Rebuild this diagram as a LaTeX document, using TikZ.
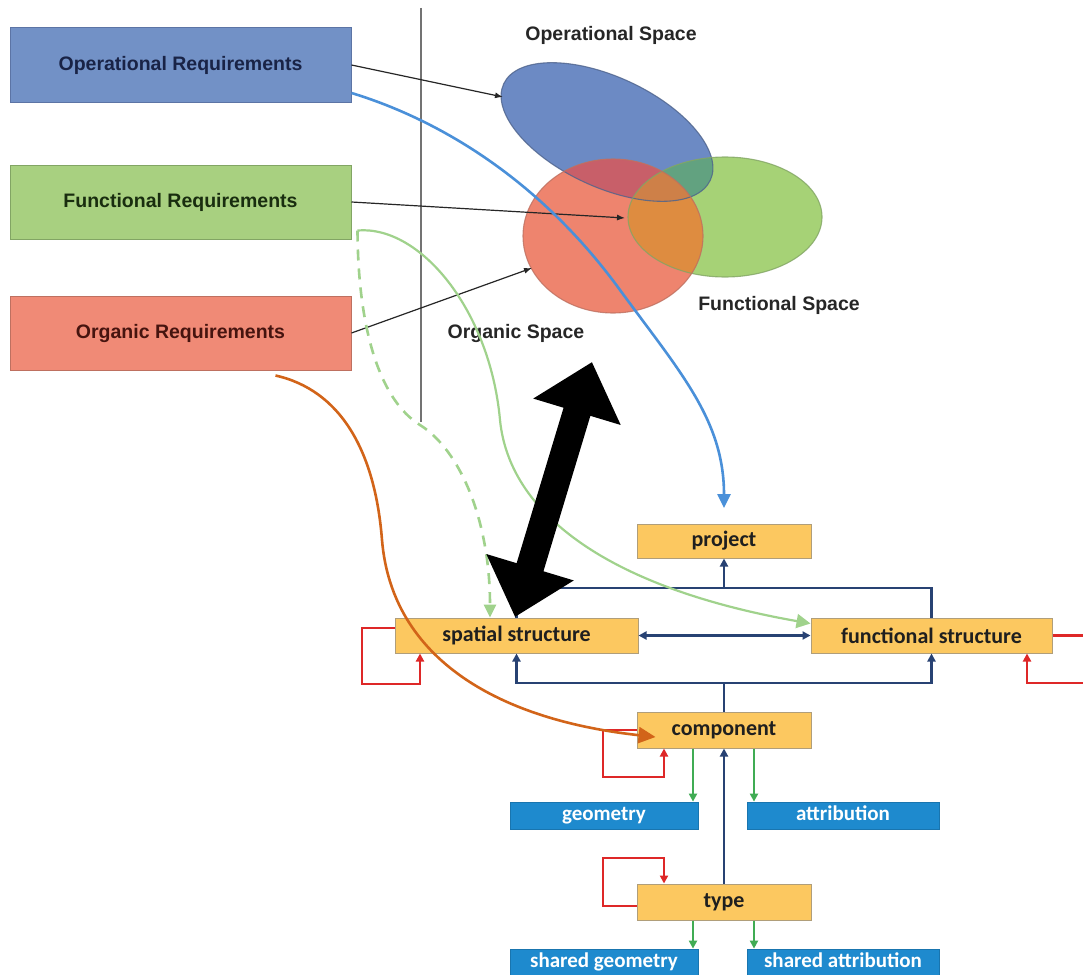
\documentclass[tikz,border=0pt]{standalone}
\usepackage{fontspec}
\setmainfont{Liberation Sans}
\newfontfamily\calfont{Carlito}
\usetikzlibrary{arrows.meta}

% requirement boxes
\definecolor{opfill}{RGB}{114,145,198}
\definecolor{opedge}{RGB}{92,116,165}
\definecolor{fnfill}{RGB}{168,208,128}
\definecolor{fnedge}{RGB}{130,165,100}
\definecolor{orfill}{RGB}{240,138,118}
\definecolor{oredge}{RGB}{190,112,96}
\definecolor{optext}{RGB}{25,35,70}
\definecolor{fntext}{RGB}{25,45,15}
\definecolor{ortext}{RGB}{70,20,15}
% space ellipses and their overlaps
\definecolor{eBlue}{RGB}{108,138,196}
\definecolor{eGreen}{RGB}{166,210,118}
\definecolor{eRed}{RGB}{238,132,110}
\definecolor{eBR}{RGB}{200,95,105}
\definecolor{eBG}{RGB}{98,162,128}
\definecolor{eRG}{RGB}{222,140,64}
\definecolor{eBRG}{RGB}{206,128,72}
% structure model
\definecolor{strfill}{RGB}{252,200,96}
\definecolor{stredge}{RGB}{176,158,122}
\definecolor{datafill}{RGB}{30,138,206}
\definecolor{navy}{RGB}{40,66,115}
\definecolor{relred}{RGB}{222,40,40}
\definecolor{relgreen}{RGB}{64,172,84}
\definecolor{curveblue}{RGB}{74,144,217}
\definecolor{curvegreen}{RGB}{160,210,140}
\definecolor{curveorange}{RGB}{210,100,25}

\tikzset{
  reqbox/.style={minimum width=341, minimum height=74, inner sep=0, line width=1pt,
    font=\fontsize{19.5}{22}\selectfont\bfseries},
  spacelabel/.style={inner sep=0, text=black!85, font=\fontsize{19.5}{22}\selectfont\bfseries},
  strbox/.style={draw=stredge, fill=strfill, line width=1pt, inner sep=0, text=black!88,
    font=\calfont\bfseries\fontsize{22}{24}\selectfont},
  databox/.style={draw=datafill!85!black, fill=datafill, line width=0.8pt, inner sep=0, text=white,
    font=\calfont\bfseries\fontsize{21}{23}\selectfont, minimum height=27,
    text height=15pt, text depth=4.5pt},
  feed/.style={black!85, line width=1.2pt, -{Latex[length=8pt,width=6pt]}},
  navyline/.style={navy, line width=2.4pt},
  navytip/.style={-{Triangle[length=8pt,width=8pt]}},
  redline/.style={relred, line width=2.2pt, -{Triangle[length=8pt,width=8pt]}},
  greenline/.style={relgreen, line width=2.2pt, -{Triangle[length=8pt,width=8pt]}},
  edgeline/.style={line width=1.1pt, draw opacity=0.8}
}

\begin{document}
\begin{tikzpicture}[x=1pt,y=-1pt]
\useasboundingbox (0,0) rectangle (1083,974);
\fill[white] (0,0) rectangle (1083,974);
\clip (0,0) rectangle (1083,974);

% ---- requirement boxes ----
\node[reqbox, fill=opfill, draw=opedge, text=optext] (opreq) at (180.5,65) {Operational Requirements};
\node[reqbox, fill=fnfill, draw=fnedge, text=fntext] (funcreq) at (180.5,202) {Functional Requirements};
\node[reqbox, fill=orfill, draw=oredge, text=ortext] (orgreq) at (180.5,333) {Organic Requirements};

% ---- divider ----
\coordinate (divtop) at (421,8);
\coordinate (divbot) at (421,422);
\draw[black!55, line width=1.8pt] (divtop) -- (divbot);

% ---- the three spaces ----
\fill[eBlue, rotate around={-25:(607,132)}] (607,132) ellipse [x radius=114, y radius=55];
\fill[eGreen] (725,217) ellipse [x radius=97, y radius=60];
\fill[eRed] (613,236) ellipse [x radius=90, y radius=77];
\begin{scope}
  \clip (725,217) ellipse [x radius=97, y radius=60];
  \fill[eRG] (613,236) ellipse [x radius=90, y radius=77];
\end{scope}
\begin{scope}
  \clip[rotate around={-25:(607,132)}] (607,132) ellipse [x radius=114, y radius=55];
  \fill[eBR] (613,236) ellipse [x radius=90, y radius=77];
  \fill[eBG] (725,217) ellipse [x radius=97, y radius=60];
  \clip (725,217) ellipse [x radius=97, y radius=60];
  \fill[eBRG] (613,236) ellipse [x radius=90, y radius=77];
\end{scope}
\draw[edgeline, opedge!85!black, rotate around={-25:(607,132)}] (607,132) ellipse [x radius=114, y radius=55];
\draw[edgeline, fnedge] (725,217) ellipse [x radius=97, y radius=60];
\draw[edgeline, oredge] (613,236) ellipse [x radius=90, y radius=77];

\node[spacelabel] (oplabel) at (611,35) {Operational Space};
\node[spacelabel] (fnlabel) at (779,305) {Functional Space};
\node[spacelabel] (orlabel) at (516,333) {Organic Space};

% ---- requirement feeds ----
\coordinate (optarget) at (503,97);
\coordinate (fntarget) at (625,218);
\coordinate (ortarget) at (532,268);
\draw[feed] (opreq.east) -- (optarget);
\draw[feed] (funcreq.east) -- (fntarget);
\draw[feed] (orgreq.east) -- (ortarget);

% ---- structure model ----
\node[strbox, minimum width=174, minimum height=34] (project) at (724,541) {project};
\node[strbox, minimum width=243, minimum height=35] (spatial) at (516.5,635.5) {spatial structure};
\node[strbox, minimum width=241, minimum height=35] (funcstr) at (931.5,635.5) {functional structure};
\node[strbox, minimum width=174, minimum height=36] (component) at (724,730) {component};
\node[strbox, minimum width=174, minimum height=36] (type) at (724,902) {type};
\node[databox, minimum width=188] (geometry) at (604,815.5) {geometry};
\node[databox, minimum width=192] (attribution) at (843,815.5) {attribution};
\node[databox, minimum width=188, minimum height=27] (sharedgeo) at (604,962.5) {shared geometry};
\node[databox, minimum width=192, minimum height=27] (sharedattr) at (843,962.5) {shared attribution};

% navy relations
\coordinate (topbus) at (724,588);
\coordinate (botbus) at (724,683);
\draw[navyline] (spatial.north) |- (topbus) -| (funcstr.north);
\draw[navyline, navytip] (topbus) -- (project.south);
\draw[navyline, {Triangle[length=8pt,width=8pt]}-{Triangle[length=8pt,width=8pt]}] (spatial.east) -- (funcstr.west);
\draw[navyline, navytip] (component.north) -- (botbus) -| (spatial.south);
\draw[navyline, navytip] (botbus) -| (funcstr.south);
\draw[navyline, navytip] (type.north) -- (component.south);

% green data links
\draw[greenline] ([xshift=-31pt]component.south) -- ([xshift=-31pt]component.south |- geometry.north);
\draw[greenline] ([xshift=30pt]component.south) -- ([xshift=30pt]component.south |- attribution.north);
\draw[greenline] ([xshift=-31pt]type.south) -- ([xshift=-31pt]type.south |- sharedgeo.north);
\draw[greenline] ([xshift=30pt]type.south) -- ([xshift=30pt]type.south |- sharedattr.north);

% red self relations
\draw[redline] ([yshift=7.5pt]spatial.west) -- (362,628) -- (362,684) -- (420,684) -- (spatial.south -| 420,0);
\draw[redline] (funcstr.east) -- (1100,635.5) -- (1100,683) -- (1027,683) -- (funcstr.south -| 1027,0);
\draw[redline] (component.west) -- (603,730) -- (603,777) -- (664,777) -- (component.south -| 664,0);
\draw[redline] ([yshift=-4pt]type.west) -- (603,906) -- (603,858) -- (664,858) -- (type.north -| 664,0);

% ---- mapping curves ----
\draw[curvegreen, line width=2.6pt, dash pattern=on 11pt off 8pt, -{Triangle[length=13pt,width=12pt]}]
  ([xshift=6pt,yshift=9pt]funcreq.south east) .. controls (358,330) and (380,400) .. (420,425)
  .. controls (460,450) and (490,520) .. (spatial.north -| 490,0);
\draw[curvegreen, line width=2.2pt, -{Triangle[length=14pt,width=14pt]}]
  ([xshift=6pt,yshift=9pt]funcreq.south east) .. controls (420,225) and (490,310) .. (500,420)
  .. controls (510,520) and (620,590) .. ([yshift=12pt]funcstr.west);
\draw[curveorange, line width=2.6pt, -{Triangle[length=17pt,width=16pt]}]
  ([xshift=-76pt,yshift=-5pt]orgreq.south east) .. controls (340,390) and (375,450) .. (382,540)
  .. controls (392,660) and (500,720) .. ([xshift=19pt,yshift=-7pt]component.west);
\coordinate (bluetip) at (724,508);
\draw[curveblue, line width=2.6pt, -{Triangle[length=14pt,width=13pt]}]
  ([yshift=-28pt]opreq.east) .. controls (440,120) and (540,180) .. (620,290)
  .. controls (680,372) and (724,420) .. (bluetip);

% ---- space <-> structure exchange ----
\coordinate (bigT) at (592,362);
\coordinate (bigB) at (515,617);
\draw[black, line width=28pt, {Triangle[length=52pt,width=88pt]}-{Triangle[length=52pt,width=88pt]}] (bigB) -- (bigT);
\end{tikzpicture}
\end{document}
